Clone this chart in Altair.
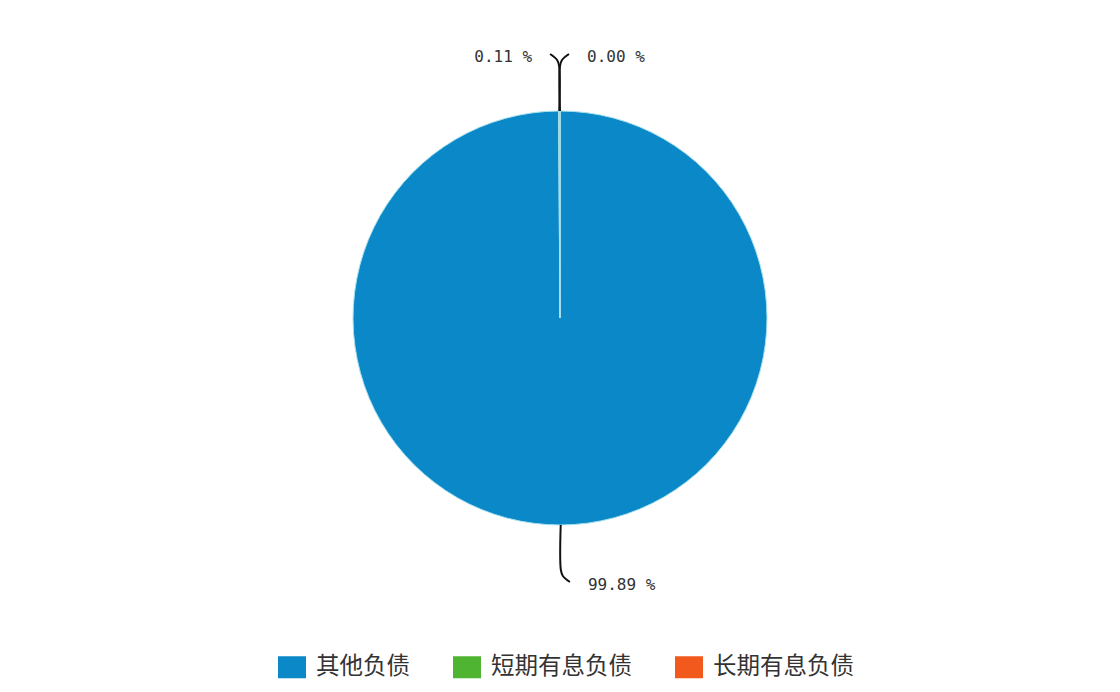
import math
import altair as alt
import pandas as pd

# ---- data ----
categories = ["其他负债", "短期有息负债", "长期有息负债"]
values = [99.89, 0.11, 0.00]
label_texts = ["99.89 %", "0.11 %", "0.00 %"]
colors = ["#0B88C8", "#4FB431", "#F15A1C"]

# ---- layout constants ----
W, H = 1104, 676
CX, CY = 552, 310
R = 207
L1, L2, TIP_OUT, GAP = 45, 12, 9, 18

pie = pd.DataFrame({"cat": categories, "value": values, "k": list(range(len(values)))})

total = sum(values)
line_rows, label_rows = [], []
cum = 0.0
for c, v, t in zip(categories, values, label_texts):
    a = (cum + v / 2) / total * 2 * math.pi
    cum += v
    ux, uy = math.sin(a), -math.cos(a)
    side = -1 if ux < -1e-9 else 1
    p0 = (R * ux, R * uy)
    p1 = ((R + L1) * ux, (R + L1) * uy)
    pm = (p1[0] + ux * 6 + side * 2, p1[1] + uy * 6)
    tip = (p1[0] + ux * L2 + side * TIP_OUT, p1[1] + uy * L2)
    for j, p in enumerate([p0, p1, pm, tip]):
        line_rows.append({"cat": c, "j": j, "px": p[0], "py": p[1]})
    label_rows.append({"cat": c, "text": t, "side": side,
                       "px": tip[0] + side * GAP, "py": tip[1] + 3})

lines_df = pd.DataFrame(line_rows)
labels_df = pd.DataFrame(label_rows)

xs = alt.Scale(domain=[-CX, W - CX], nice=False, zero=False)
ys = alt.Scale(domain=[-CY, H - CY], nice=False, zero=False, reverse=True)

legend = alt.Legend(
    orient="none", legendX=270, legendY=645, direction="horizontal", columns=3,
    title=None, symbolType="M-1,-0.786L1,-0.786L1,0.786L-1,0.786Z", symbolSize=784,
    symbolStrokeWidth=0, symbolOpacity=1, labelFontSize=23.5,
    labelFont="Noto Sans CJK SC", labelColor="#333333", labelOffset=10,
    columnPadding=43, labelLimit=300,
)

arcs = alt.Chart(pie).mark_arc(outerRadius=R, stroke="#a8e0ee", strokeWidth=1).encode(
    theta=alt.Theta("value:Q", stack=True),
    color=alt.Color("cat:N", scale=alt.Scale(domain=categories, range=colors), legend=legend),
    order=alt.Order("k:Q"),
    x=alt.XDatum(0, type="quantitative", scale=xs, axis=None),
    y=alt.YDatum(0, type="quantitative", scale=ys, axis=None),
)

lines = alt.Chart(lines_df).mark_line(color="#111111", strokeWidth=2, interpolate="catmull-rom").encode(
    x=alt.X("px:Q", scale=xs, axis=None),
    y=alt.Y("py:Q", scale=ys, axis=None),
    detail="cat:N",
    order=alt.Order("j:Q"),
)

text_left = alt.Chart(labels_df).transform_filter("datum.side < 0").mark_text(
    font="DejaVu Sans Mono", fontSize=16, color="#333333", align="right", baseline="middle"
).encode(
    x=alt.X("px:Q", scale=xs, axis=None),
    y=alt.Y("py:Q", scale=ys, axis=None),
    text="text:N",
)

text_right = alt.Chart(labels_df).transform_filter("datum.side > 0").mark_text(
    font="DejaVu Sans Mono", fontSize=16, color="#333333", align="left", baseline="middle"
).encode(
    x=alt.X("px:Q", scale=xs, axis=None),
    y=alt.Y("py:Q", scale=ys, axis=None),
    text="text:N",
)

chart = alt.layer(arcs, lines, text_left, text_right).properties(
    width=W, height=H, autosize="none", padding=0, background="white"
).configure_view(stroke=None)

chart.save("out.html", embed_options={"renderer": "svg", "actions": False})
